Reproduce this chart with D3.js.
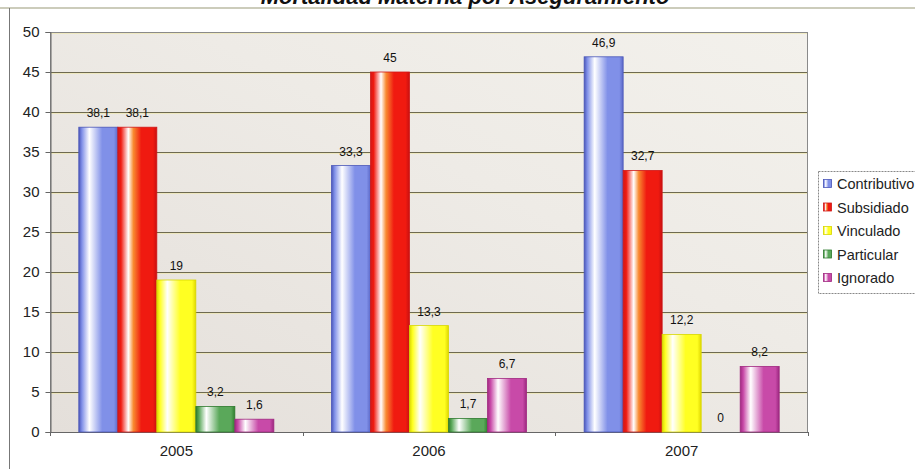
<!DOCTYPE html>
<html><head><meta charset="utf-8">
<script src="https://cdn.jsdelivr.net/npm/d3@7"></script>
<style>body{margin:0;background:#fff;}svg{display:block;font-family:Arial,"Liberation Sans",sans-serif;}</style>
</head><body>
<svg id="c" width="915" height="469"></svg>
<script>
const title = "Mortalidad Materna por Aseguramiento";
const years = ["2005", "2006", "2007"];
const seriesNames = ["Contributivo", "Subsidiado", "Vinculado", "Particular", "Ignorado"];
const contributivo = [38.1, 33.3, 46.9];
const subsidiado = [38.1, 45, 32.7];
const vinculado = [19, 13.3, 12.2];
const particular = [3.2, 1.7, 0];
const ignorado = [1.6, 6.7, 8.2];
const yTicks = [0, 5, 10, 15, 20, 25, 30, 35, 40, 45, 50];

const seriesValues = [contributivo, subsidiado, vinculado, particular, ignorado];
const colors = [
  {dark:"#4a56b8", main:"#8090e8", edge:"#5b68c8"},
  {dark:"#d01818", main:"#f01a10", edge:"#c81010", mid:"#f88a30"},
  {dark:"#d8d800", main:"#ffff22", edge:"#e0d800"},
  {dark:"#2e7a2e", main:"#5aa85a", edge:"#2f7f2f"},
  {dark:"#a02880", main:"#c84aa8", edge:"#9c2880"}
];

const svg = d3.select("#c");
const defs = svg.append("defs");
const m = {l:50, r:107, t:32, b:37};
const W = 915, H = 469;
const pw = W - m.l - m.r, ph = H - m.t - m.b;

const bg = defs.append("linearGradient").attr("id","bg").attr("x1","0").attr("y1","1").attr("x2","1").attr("y2","0");
bg.append("stop").attr("offset","0").attr("stop-color","#e4dfda");
bg.append("stop").attr("offset","0.6").attr("stop-color","#eeebe6");
bg.append("stop").attr("offset","1").attr("stop-color","#f3f1ec");

colors.forEach((c,i)=>{
  const g = defs.append("linearGradient").attr("id","g"+i).attr("x1","0").attr("x2","1").attr("y1","0").attr("y2","0");
  g.append("stop").attr("offset","0").attr("stop-color",c.dark);
  g.append("stop").attr("offset","0.08").attr("stop-color",c.main);
  g.append("stop").attr("offset","0.27").attr("stop-color","#ffffff");
  if (c.mid) g.append("stop").attr("offset","0.4").attr("stop-color",c.mid);
  g.append("stop").attr("offset","0.6").attr("stop-color",c.main);
  g.append("stop").attr("offset","0.9").attr("stop-color",c.main);
  g.append("stop").attr("offset","1").attr("stop-color",c.edge);
});

// outer frame
svg.append("line").attr("x1",0).attr("x2",W).attr("y1",8).attr("y2",8).attr("stroke","#9a9a78").attr("stroke-width",1.2);
svg.append("line").attr("x1",9.5).attr("x2",9.5).attr("y1",8).attr("y2",H).attr("stroke","#777").attr("stroke-width",1);

// title (cropped at top as in the reference)
svg.append("text").attr("x",465).attr("y",4).attr("text-anchor","middle")
  .attr("font-size",22).attr("font-weight","bold").attr("font-style","italic").attr("fill","#111").text(title);

const x0 = d3.scaleBand().domain(years).range([m.l, m.l+pw]).paddingInner(0.228).paddingOuter(0.114);
const x1 = d3.scaleBand().domain(seriesNames).range([0, x0.bandwidth()]);
const y = d3.scaleLinear().domain([0,50]).range([m.t+ph, m.t]);

svg.append("rect").attr("x",m.l).attr("y",m.t).attr("width",pw).attr("height",ph).attr("fill","url(#bg)");

svg.append("g").selectAll("line").data(yTicks.filter(d=>d>0)).join("line")
  .attr("x1",m.l).attr("x2",m.l+pw).attr("y1",d=>Math.round(y(d))+0.5).attr("y2",d=>Math.round(y(d))+0.5)
  .attr("stroke","#6e6a50").attr("stroke-width",1);
svg.append("g").selectAll("line").data(yTicks.filter(d=>d>0)).join("line")
  .attr("x1",m.l).attr("x2",m.l+pw).attr("y1",d=>Math.round(y(d))+1.5).attr("y2",d=>Math.round(y(d))+1.5)
  .attr("stroke","#f0e8a8").attr("stroke-width",1).attr("opacity",0.6);

svg.append("rect").attr("x",m.l+0.5).attr("y",m.t+0.5).attr("width",pw-1).attr("height",ph).attr("fill","none").attr("stroke","#8a8a8a");

const yAxis = d3.axisLeft(y).tickValues(yTicks).tickSize(5).tickPadding(6).tickFormat(d3.format("d"));
const ya = svg.append("g").attr("transform",`translate(${m.l+0.5},0)`).call(yAxis);
ya.select(".domain").attr("stroke","#666");
ya.selectAll(".tick line").attr("stroke","#666");
ya.selectAll("text").attr("font-size",15).attr("fill","#222").attr("font-family","Arial, 'Liberation Sans', sans-serif");

const xAxis = d3.axisBottom(x0).tickSize(0).tickPadding(13);
const xa = svg.append("g").attr("transform",`translate(0,${m.t+ph})`).call(xAxis);
xa.select(".domain").attr("stroke","#666");
xa.selectAll("text").attr("font-size",15).attr("fill","#222").attr("font-family","Arial, 'Liberation Sans', sans-serif");
const seps = [m.l, ...years.slice(1).map(yr=>x0(yr)-x0.step()*x0.paddingInner()/2), m.l+pw];
svg.append("g").selectAll("line").data(seps).join("line")
  .attr("x1",d=>Math.round(d)+0.5).attr("x2",d=>Math.round(d)+0.5).attr("y1",m.t+ph).attr("y2",m.t+ph+4).attr("stroke","#666");

const data = [];
years.forEach((yr,i)=>seriesNames.forEach((s,j)=>data.push({yr, s, j, v: seriesValues[j][i]})));
svg.append("g").selectAll("rect").data(data.filter(d=>d.v>0)).join("rect")
  .attr("x",d=>x0(d.yr)+x1(d.s)).attr("width",x1.bandwidth())
  .attr("y",d=>y(d.v)).attr("height",d=>y(0)-y(d.v))
  .attr("fill",d=>`url(#g${d.j})`).attr("stroke",d=>colors[d.j].dark).attr("stroke-width",0.8);

svg.append("g").selectAll("text").data(data).join("text")
  .attr("x",d=>x0(d.yr)+x1(d.s)+x1.bandwidth()/2).attr("y",d=>y(d.v)-10)
  .attr("text-anchor","middle").attr("font-size",12).attr("fill","#111")
  .text(d=>String(d.v).replace(".", ","));

const lg = svg.append("g").attr("transform","translate(818,171)");
lg.append("rect").attr("x",0.5).attr("y",0.5).attr("width",110).attr("height",122).attr("fill","#fff")
  .attr("stroke","#888").attr("stroke-dasharray","2,1");
seriesNames.forEach((s,j)=>{
  const gy = 13 + j*23.5;
  lg.append("rect").attr("x",5.5).attr("y",gy-4.5).attr("width",8).attr("height",8)
    .attr("fill",`url(#g${j})`).attr("stroke",colors[j].dark).attr("stroke-width",0.8);
  lg.append("text").attr("x",19).attr("y",gy+5).attr("font-size",14.5).attr("fill","#222").text(s);
});
</script>
</body></html>
